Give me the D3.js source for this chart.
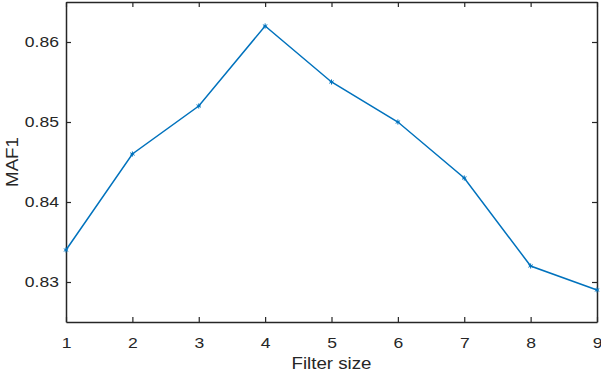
<!DOCTYPE html>
<html lang="en">
<head>
<meta charset="UTF-8">
<title>MAF1 vs Filter size</title>
<script src="https://d3js.org/d3.v7.min.js"></script>
<style>
  body { margin: 0; background: #fff; }
  svg { display: block; }
  .axis text { font-family: "Liberation Sans", Arial, sans-serif; font-size: 15px; fill: #262626; }
  .axis path, .axis line { stroke: #262626; }
  .label { font-family: "Liberation Sans", Arial, sans-serif; font-size: 16px; fill: #262626; }
</style>
</head>
<body>
<script>
const filterSizes = [1, 2, 3, 4, 5, 6, 7, 8, 9];
const maf1 = [0.834, 0.846, 0.852, 0.862, 0.855, 0.850, 0.843, 0.832, 0.829];
const yTicks = [0.83, 0.84, 0.85, 0.86];

const width = 601, height = 372;
const margin = { top: 2, right: 4, bottom: 50, left: 66 };
const w = width - margin.left - margin.right;
const h = height - margin.top - margin.bottom;
const stretch = 1.17; // the reference's text is wider than Liberation Sans

const svg = d3.select('body').append('svg').attr('width', width).attr('height', height);
const g = svg.append('g').attr('transform', `translate(${margin.left},${margin.top})`);

const x = d3.scaleLinear().domain([1, 9]).range([0, w]);
const y = d3.scaleLinear().domain([0.825, 0.865]).range([h, 0]);

// inward ticks on all four sides
g.append('g').attr('class', 'axis')
  .attr('transform', `translate(0,${h})`)
  .call(d3.axisBottom(x).tickValues(filterSizes).tickFormat(d3.format('d')).tickSizeInner(-5).tickSizeOuter(0).tickPadding(15))
  .selectAll('text').attr('transform', `scale(${stretch},1)`);
g.append('g').attr('class', 'axis')
  .call(d3.axisTop(x).tickValues(filterSizes).tickFormat('').tickSizeInner(-5).tickSizeOuter(0));
g.append('g').attr('class', 'axis')
  .call(d3.axisLeft(y).tickValues(yTicks).tickFormat(d3.format('.2f')).tickSizeInner(-5).tickSizeOuter(0).tickPadding(6))
  .selectAll('text').attr('transform', `scale(${stretch},1)`);
g.append('g').attr('class', 'axis')
  .attr('transform', `translate(${w},0)`)
  .call(d3.axisRight(y).tickValues(yTicks).tickFormat('').tickSizeInner(-5).tickSizeOuter(0));

g.selectAll('.axis path').attr('stroke-width', 1.5);
g.selectAll('.axis line').attr('stroke-width', 1.2);

const pts = filterSizes.map((d, i) => [d, maf1[i]]);

g.append('path')
  .datum(pts)
  .attr('fill', 'none')
  .attr('stroke', '#0072BD')
  .attr('stroke-width', 1.5)
  .attr('d', d3.line().x(d => x(d[0])).y(d => y(d[1])));

g.selectAll('.mk')
  .data(pts)
  .enter().append('path')
  .attr('class', 'mk')
  .attr('transform', d => `translate(${x(d[0])},${y(d[1])})`)
  .attr('d', d3.symbol(d3.symbolAsterisk, 18))
  .attr('fill', 'none')
  .attr('stroke', '#0072BD')
  .attr('stroke-width', 1);

svg.append('text').attr('class', 'label')
  .attr('transform', `translate(${margin.left + w / 2},369) scale(${stretch},1)`)
  .attr('text-anchor', 'middle')
  .text('Filter size');

svg.append('text').attr('class', 'label')
  .attr('transform', `translate(18,${margin.top + h / 2}) rotate(-90) scale(${stretch},1)`)
  .attr('text-anchor', 'middle')
  .text('MAF1');
</script>
</body>
</html>
